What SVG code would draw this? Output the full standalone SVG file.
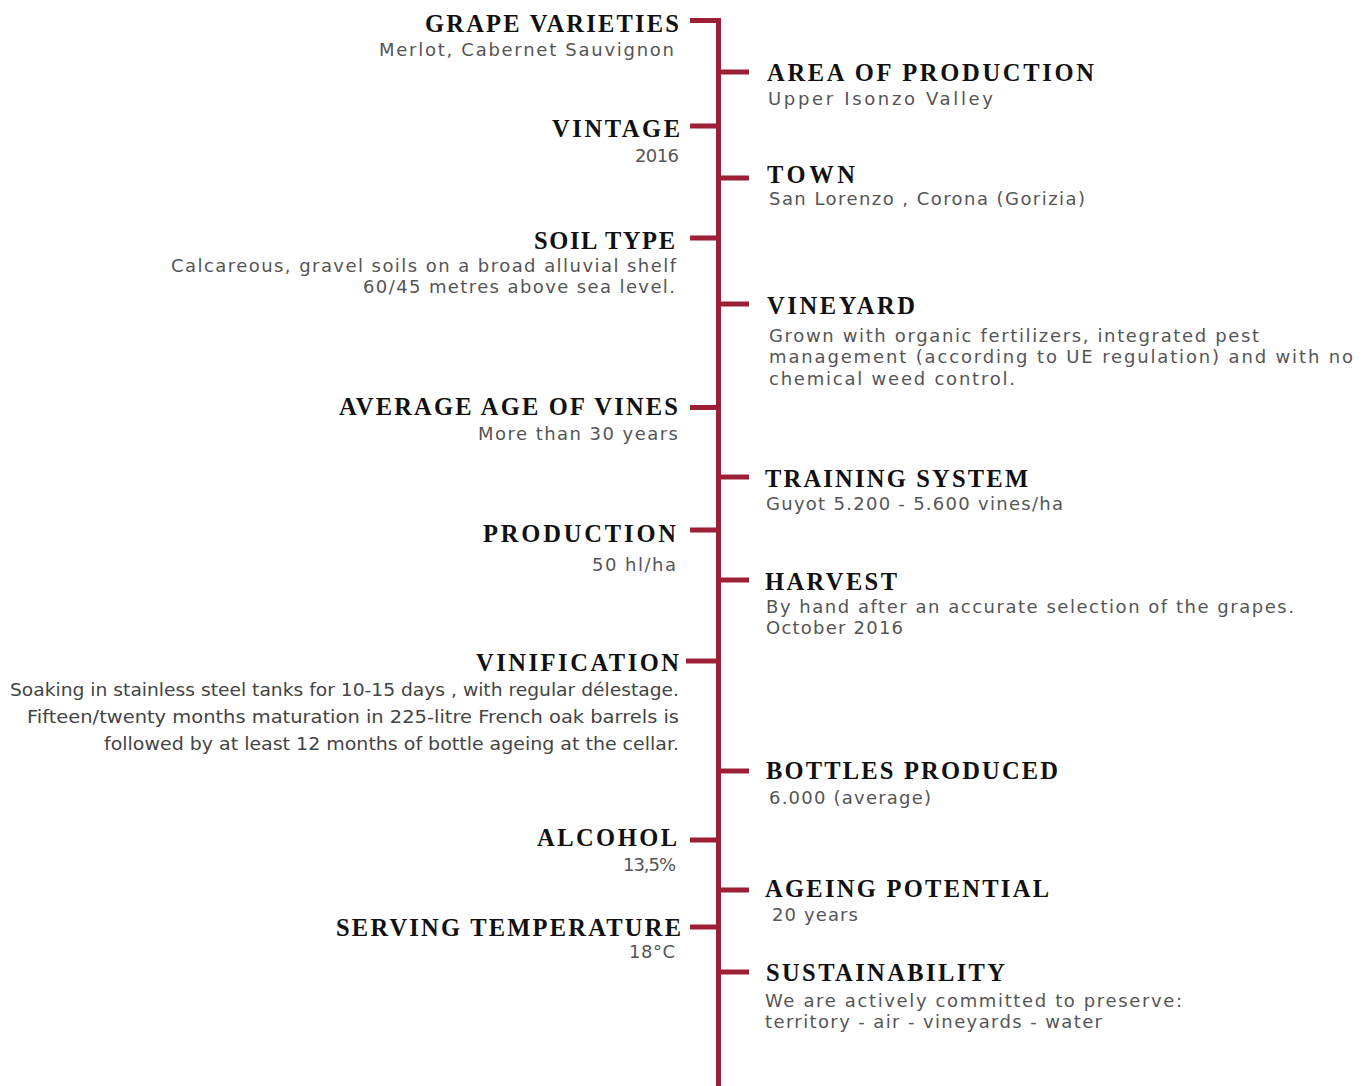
<svg xmlns="http://www.w3.org/2000/svg" width="1365" height="1086" viewBox="0 0 1365 1086">
<style>
.h{font-family:"Liberation Serif","Times New Roman",serif;font-weight:bold;font-size:24.5px;fill:#111;}
.b{font-family:"DejaVu Sans","Noto Sans",sans-serif;font-size:18px;fill:#555;}
.v{font-family:"DejaVu Sans","Noto Sans",sans-serif;font-size:17.5px;fill:#444;}
.ln{fill:#9c1f35;}
</style>
<rect width="1365" height="1086" fill="#fff"/>
<g id="connectors">
<rect class="ln" x="716" y="18" width="5" height="1068"/>
<rect class="ln" x="690" y="18" width="27" height="5"/>
<rect class="ln" x="690" y="123.5" width="27" height="5"/>
<rect class="ln" x="690" y="235.5" width="27" height="5"/>
<rect class="ln" x="690" y="405" width="27" height="5"/>
<rect class="ln" x="690" y="527.5" width="27" height="5"/>
<rect class="ln" x="686" y="658.5" width="31" height="5"/>
<rect class="ln" x="690" y="837.5" width="27" height="5"/>
<rect class="ln" x="690" y="924.5" width="27" height="5"/>
<rect class="ln" x="720" y="69.5" width="29" height="5"/>
<rect class="ln" x="720" y="175.5" width="29" height="5"/>
<rect class="ln" x="720" y="301.5" width="29" height="5"/>
<rect class="ln" x="720" y="474.5" width="29" height="5"/>
<rect class="ln" x="720" y="577.5" width="29" height="5"/>
<rect class="ln" x="720" y="768.5" width="29" height="5"/>
<rect class="ln" x="720" y="887.5" width="29" height="5"/>
<rect class="ln" x="720" y="969.5" width="29" height="5"/>
</g>
<g id="grape-varieties">
<text class="h" x="425" y="32" textLength="254" lengthAdjust="spacing">GRAPE VARIETIES</text>
<text class="b" x="379" y="56" textLength="295" lengthAdjust="spacing">Merlot, Cabernet Sauvignon</text>
</g>
<g id="area-of-production">
<text class="h" x="767" y="81" textLength="327" lengthAdjust="spacing">AREA OF PRODUCTION</text>
<text class="b" x="768" y="105" textLength="225" lengthAdjust="spacing">Upper Isonzo Valley</text>
</g>
<g id="vintage">
<text class="h" x="552" y="137" textLength="128" lengthAdjust="spacing">VINTAGE</text>
<text class="b" x="635" y="161.5" textLength="44" lengthAdjust="spacing">2016</text>
</g>
<g id="town">
<text class="h" x="767" y="183" textLength="88" lengthAdjust="spacing">TOWN</text>
<text class="b" x="769" y="205" textLength="316" lengthAdjust="spacing">San Lorenzo , Corona (Gorizia)</text>
</g>
<g id="soil-type">
<text class="h" x="534" y="249" textLength="141" lengthAdjust="spacing">SOIL TYPE</text>
<text class="b" x="171" y="272" textLength="505" lengthAdjust="spacing">Calcareous, gravel soils on a broad alluvial shelf</text>
<text class="b" x="363" y="293" textLength="312" lengthAdjust="spacing">60/45 metres above sea level.</text>
</g>
<g id="vineyard">
<text class="h" x="767" y="314" textLength="148" lengthAdjust="spacing">VINEYARD</text>
<text class="b" x="769" y="342" textLength="490" lengthAdjust="spacing">Grown with organic fertilizers, integrated pest</text>
<text class="b" x="769" y="363" textLength="584" lengthAdjust="spacing">management (according to UE regulation) and with no</text>
<text class="b" x="769" y="385" textLength="246" lengthAdjust="spacing">chemical weed control.</text>
</g>
<g id="average-age-of-vines">
<text class="h" x="339" y="415" textLength="339" lengthAdjust="spacing">AVERAGE AGE OF VINES</text>
<text class="b" x="478" y="440" textLength="200" lengthAdjust="spacing">More than 30 years</text>
</g>
<g id="training-system">
<text class="h" x="765" y="487" textLength="263" lengthAdjust="spacing">TRAINING SYSTEM</text>
<text class="b" x="766" y="510" textLength="297" lengthAdjust="spacing">Guyot 5.200 - 5.600 vines/ha</text>
</g>
<g id="production">
<text class="h" x="483" y="542" textLength="193" lengthAdjust="spacing">PRODUCTION</text>
<text class="b" x="592" y="571" textLength="84" lengthAdjust="spacing">50 hl/ha</text>
</g>
<g id="harvest">
<text class="h" x="765" y="590" textLength="132" lengthAdjust="spacing">HARVEST</text>
<text class="b" x="766" y="613" textLength="528" lengthAdjust="spacing">By hand after an accurate selection of the grapes.</text>
<text class="b" x="766" y="634" textLength="137" lengthAdjust="spacing">October 2016</text>
</g>
<g id="vinification">
<text class="h" x="476" y="671" textLength="203" lengthAdjust="spacing">VINIFICATION</text>
<text class="v" x="10" y="696" textLength="669" lengthAdjust="spacingAndGlyphs">Soaking in stainless steel tanks for 10-15 days , with regular délestage.</text>
<text class="v" x="27" y="723" textLength="652" lengthAdjust="spacingAndGlyphs">Fifteen/twenty months maturation in 225-litre French oak barrels is</text>
<text class="v" x="104" y="750" textLength="575" lengthAdjust="spacingAndGlyphs">followed by at least 12 months of bottle ageing at the cellar.</text>
</g>
<g id="bottles-produced">
<text class="h" x="766" y="779" textLength="292" lengthAdjust="spacing">BOTTLES PRODUCED</text>
<text class="b" x="769" y="804" textLength="162" lengthAdjust="spacing">6.000 (average)</text>
</g>
<g id="alcohol">
<text class="h" x="537" y="846" textLength="140" lengthAdjust="spacing">ALCOHOL</text>
<text class="b" x="623" y="870.5" textLength="53" lengthAdjust="spacing">13,5%</text>
</g>
<g id="ageing-potential">
<text class="h" x="765" y="897" textLength="284" lengthAdjust="spacing">AGEING POTENTIAL</text>
<text class="b" x="772" y="920.5" textLength="86" lengthAdjust="spacing">20 years</text>
</g>
<g id="serving-temperature">
<text class="h" x="336" y="936" textLength="345" lengthAdjust="spacing">SERVING TEMPERATURE</text>
<text class="b" x="629" y="958" textLength="46" lengthAdjust="spacing">18°C</text>
</g>
<g id="sustainability">
<text class="h" x="766" y="981" textLength="239" lengthAdjust="spacing">SUSTAINABILITY</text>
<text class="b" x="765" y="1006.5" textLength="417" lengthAdjust="spacing">We are actively committed to preserve:</text>
<text class="b" x="765" y="1027.5" textLength="337" lengthAdjust="spacing">territory - air - vineyards - water</text>
</g>
</svg>
